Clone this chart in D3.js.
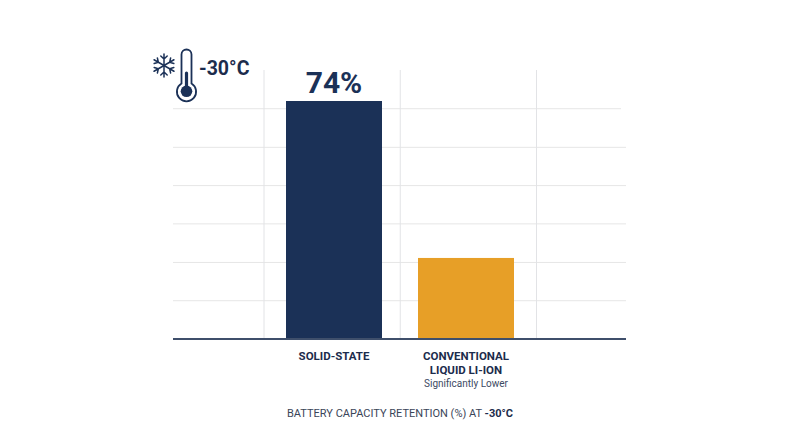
<!DOCTYPE html>
<html><head><meta charset="utf-8">
<script src="https://cdn.jsdelivr.net/npm/d3@7"></script>
<style>html,body{margin:0;background:#fff}svg{display:block}text{font-family:Roboto,sans-serif}</style>
</head><body><svg id="c" width="800" height="447"></svg>
<script>
const categories = ["SOLID-STATE", "CONVENTIONAL\nLIQUID LI-ION"];
const values = [74, 25.2];
const valueLabels = ["74%", null];
const subLabels = [null, "Significantly Lower"];
const gridValues = [11.9, 23.8, 35.8, 47.7, 59.6, 71.6];
const vGridValues = [0, 1, 2];
const navy = "#1b3157", orange = "#e79f27", grid = "#e6e6e6", ink = "#1c2c4c";

const svg = d3.select("#c");
const x = d3.scaleBand().domain(categories).range([286, 514]).paddingInner(36 / 132).paddingOuter(0);
const y = d3.scaleLinear().domain([0, 74]).range([339, 101]);
const vx = d3.scaleLinear().domain([0, 2]).range([264, 536.5]);

// grid
svg.append("g").selectAll("line").data(gridValues).join("line")
  .attr("x1", 173).attr("x2", d => d > 70 ? 621 : 626)
  .attr("y1", d => y(d)).attr("y2", d => y(d))
  .attr("stroke", grid).attr("stroke-width", 1);
svg.append("g").selectAll("line").data(vGridValues).join("line")
  .attr("x1", d => vx(d)).attr("x2", d => vx(d))
  .attr("y1", 70).attr("y2", 339)
  .attr("stroke", "#e2e3e6").attr("stroke-width", 1);

// bars
svg.append("g").selectAll("rect").data(categories).join("rect")
  .attr("x", d => x(d)).attr("width", x.bandwidth())
  .attr("y", (d, i) => y(values[i])).attr("height", (d, i) => y(0) - y(values[i]))
  .attr("fill", (d, i) => i === 0 ? navy : orange);

// axis baseline
svg.append("line").attr("x1", 173).attr("x2", 626).attr("y1", 339).attr("y2", 339)
  .attr("stroke", "#3f4f6b").attr("stroke-width", 2);

// value label
svg.append("g").selectAll("text").data(categories).join("text")
  .filter((d, i) => valueLabels[i])
  .attr("x", d => x(d) + x.bandwidth() / 2).attr("y", 93)
  .attr("text-anchor", "middle").attr("font-size", 30).attr("font-weight", 700).attr("fill", navy)
  .text(d => valueLabels[categories.indexOf(d)]);

// category labels
categories.forEach((c, i) => {
  const cx = x(c) + x.bandwidth() / 2;
  c.split("\n").forEach((ln, j) => {
    svg.append("text").attr("x", cx).attr("y", 360 + j * 14)
      .attr("text-anchor", "middle").attr("font-size", 11.5).attr("font-weight", 700)
      .attr("fill", ink).text(ln);
  });
  if (subLabels[i]) svg.append("text").attr("x", cx).attr("y", 387)
      .attr("text-anchor", "middle").attr("font-size", 10).attr("fill", "#3c4a63").text(subLabels[i]);
});

// caption
const cap = svg.append("text").attr("x", 400).attr("y", 417).attr("text-anchor", "middle")
  .attr("font-size", 11).attr("fill", "#3a4558");
cap.append("tspan").text("BATTERY CAPACITY RETENTION (%) AT ");
cap.append("tspan").attr("font-weight", 700).attr("fill", ink).text("-30°C");

// temperature icon
svg.append("text").attr("x", 199).attr("y", 74.5).attr("font-size", 19.5).attr("font-weight", 700)
  .attr("fill", ink).text("-30°C");
const ic = svg.append("g").attr("fill", "none").attr("stroke", navy).attr("stroke-linecap", "round");
ic.append("path").attr("stroke-width", 1.8)
  .attr("d", "M181.5 83.5V54.5a5 5 0 0 1 10 0V83.5a9.6 9.6 0 1 1 -10 0Z");
ic.append("line").attr("x1", 186.5).attr("x2", 186.5).attr("y1", 73).attr("y2", 90).attr("stroke-width", 3.2);
ic.append("circle").attr("cx", 186.5).attr("cy", 91.3).attr("r", 5.8).attr("fill", navy).attr("stroke", "none");
const fl = svg.append("g").attr("transform", "translate(164,65.5)").attr("fill", "none")
  .attr("stroke", navy).attr("stroke-width", 1.5).attr("stroke-linecap", "round");
d3.range(6).forEach(k => {
  fl.append("path").attr("transform", `rotate(${k * 60})`)
    .attr("d", "M0 0V-11.5M-3.2 -9.5L0 -6.5L3.2 -9.5");
});
</script></body></html>
